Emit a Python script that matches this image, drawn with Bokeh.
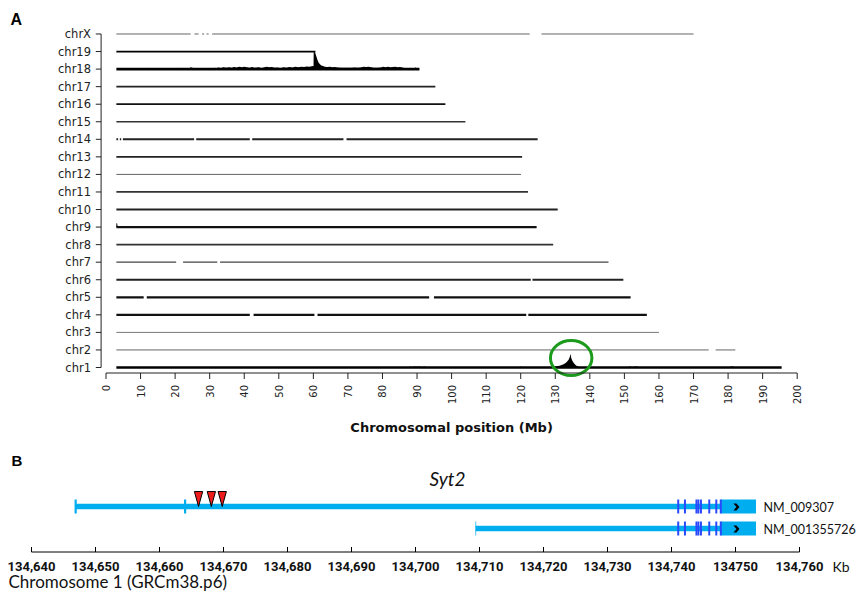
import math
from bokeh.plotting import figure
from bokeh.models import ColumnDataSource, Range1d
from bokeh.core.properties import value
from bokeh.embed import file_html
from bokeh.resources import INLINE

# ---------------- Panel A data ----------------
chrom_names = ["chr1", "chr2", "chr3", "chr4", "chr5", "chr6", "chr7", "chr8", "chr9", "chr10",
               "chr11", "chr12", "chr13", "chr14", "chr15", "chr16", "chr17", "chr18", "chr19", "chrX"]
chrom_start = [3.0, 3.0, 3.0, 3.0, 3.0, 3.0, 3.0, 3.0, 3.0, 3.0,
               3.0, 3.0, 3.0, 3.0, 3.0, 3.0, 3.0, 3.0, 3.0, 3.0]
chrom_end = [195.5, 182.1, 160.0, 156.5, 151.8, 149.7, 145.4, 129.4, 124.6, 130.7,
             122.1, 120.1, 120.4, 124.9, 104.0, 98.2, 95.3, 90.7, 60.6, 170.0]

gap_chrom = ["chrX", "chrX", "chrX", "chrX", "chrX", "chr14", "chr14", "chr14", "chr14", "chr14",
             "chr7", "chr7", "chr5", "chr5", "chr4", "chr4", "chr4", "chr2", "chr6"]
gap_start = [24.5, 26.8, 28.4, 29.7, 122.6, 3.5, 4.4, 25.5, 41.6, 68.7,
             20.3, 32.2, 10.9, 93.5, 41.6, 60.3, 121.6, 174.4, 122.9]
gap_end = [25.6, 27.8, 29.1, 30.7, 126.0, 4.0, 4.9, 26.1, 42.3, 69.6,
           22.3, 33.0, 11.8, 94.9, 42.7, 61.2, 122.2, 176.4, 123.4]

chr18_pos = [3.0, 5.2, 5.5, 5.8, 12.0, 12.3, 12.6, 20.6, 21.0, 21.4, 24.0, 24.5, 25.0, 25.4,
             30.8, 31.3, 31.8, 32.6, 33.2, 34.0, 34.8, 35.6, 36.4, 37.0, 37.8, 38.6, 39.3, 40.0,
             41.5, 42.3, 43.0, 44.2, 45.0, 46.5, 47.2, 48.0, 48.8, 49.5, 50.5, 51.5, 52.2, 53.0,
             54.0, 54.8, 55.6, 56.5, 57.3, 58.0, 58.8, 59.5, 60.05, 60.1, 60.5, 60.9, 61.2, 61.5,
             61.9, 62.3, 62.8, 63.3, 64.0, 64.8, 65.5, 66.2, 67.0, 68.0, 69.0, 70.0, 71.0, 72.0,
             73.0, 74.0, 74.6, 75.3, 76.0, 76.7, 77.5, 78.5, 79.5, 80.2, 80.9, 81.6, 82.3, 83.0,
             83.7, 84.4, 85.1, 86.0, 87.0, 88.5, 89.2, 89.6, 90.0, 90.7]
chr18_val = [0.0, 0.0, 0.07, 0.0, 0.0, 0.07, 0.0, 0.0, 0.08, 0.0, 0.0, 0.10, 0.08, 0.0,
             0.0, 0.07, 0.05, 0.09, 0.06, 0.10, 0.07, 0.11, 0.08, 0.12, 0.09, 0.13, 0.10, 0.14,
             0.08, 0.12, 0.07, 0.10, 0.06, 0.13, 0.10, 0.12, 0.07, 0.09, 0.06, 0.10, 0.08, 0.12,
             0.09, 0.13, 0.10, 0.14, 0.12, 0.15, 0.13, 0.16, 0.17, 1.0, 0.95, 0.70, 0.52, 0.38,
             0.27, 0.21, 0.17, 0.14, 0.12, 0.14, 0.11, 0.12, 0.09, 0.08, 0.07, 0.08, 0.07, 0.09,
             0.08, 0.11, 0.14, 0.12, 0.14, 0.10, 0.08, 0.07, 0.09, 0.13, 0.11, 0.14, 0.10, 0.12,
             0.14, 0.11, 0.12, 0.07, 0.05, 0.0, 0.0, 0.10, 0.0, 0.0]

chr1_pos = [3.0, 87.5, 88.0, 88.5, 89.2, 90.0, 90.8, 91.5, 92.3, 93.0, 119.5, 120.0, 120.5,
            129.0, 129.8, 130.5, 131.2, 131.9, 132.5, 133.0, 133.5, 133.9, 134.2, 134.4, 134.6,
            134.9, 135.2, 135.6, 136.0, 136.5, 137.2, 150.8, 151.5, 152.3, 153.0, 154.0, 154.8,
            180.3, 180.8, 181.4, 182.0, 195.5]
chr1_val = [0.0, 0.0, 0.05, 0.03, 0.06, 0.04, 0.06, 0.03, 0.05, 0.0, 0.0, 0.05, 0.0,
            0.0, 0.04, 0.07, 0.10, 0.14, 0.20, 0.26, 0.35, 0.45, 0.60, 0.78, 0.55,
            0.40, 0.30, 0.20, 0.12, 0.07, 0.0, 0.0, 0.05, 0.03, 0.06, 0.04, 0.0,
            0.0, 0.06, 0.05, 0.0, 0.0]

chr9_pos = [3.0, 3.2, 3.4]
chr9_val = [0.22, 0.22, 0.0]

highlight_center = [134.6, 0.54]   # (Mb, row units) green circle around chr1 peak

x_ticks = [0, 10, 20, 30, 40, 50, 60, 70, 80, 90, 100, 110, 120, 130, 140, 150, 160, 170, 180, 190, 200]
x_title = "Chromosomal position (Mb)"

# line styles of the chromosome tracks
track_width = [2.6, 1.0, 1.0, 2.3, 2.3, 2.1, 1.3, 1.7, 2.3, 2.1,
               1.7, 1.0, 1.9, 2.1, 1.6, 1.7, 1.7, 2.6, 1.7, 1.0]
track_color = ["#000000", "#666666", "#777777", "#111111", "#111111", "#222222", "#444444", "#333333", "#111111", "#222222",
               "#333333", "#666666", "#222222", "#222222", "#333333", "#111111", "#222222", "#000000", "#000000", "#666666"]

# ---------------- Panel B data ----------------
gene_label = "Syt2"
tx_names = ["NM_009307", "NM_001355726"]
tx_row = [1, 0]
tx_start = [134646.9, 134709.4]
tx_end = [134753.2, 134753.2]
mark_tx = [0, 0, 1]
mark_pos = [134646.9, 134664.0, 134709.4]
coding_exons = [134741.05, 134742.1, 134743.9, 134744.2, 134744.6, 134745.9, 134747.0, 134747.7]
last_exon_start = 134747.7
last_exon_end = 134753.2
variant_pos = [134666.1, 134668.1, 134669.8]
b_ticks = [134640, 134650, 134660, 134670, 134680, 134690, 134700, 134710, 134720, 134730, 134740, 134750, 134760]
b_tick_labels = ["134,640", "134,650", "134,660", "134,670", "134,680", "134,690", "134,700",
                 "134,710", "134,720", "134,730", "134,740", "134750", "134,760"]
b_unit = "Kb"
b_title = "Chromosome 1 (GRCm38.p6)"

# ---------------- page-pixel helpers for layout (positions only) ----------------
W, H = 858, 591
def mb(px):
    return (px - 105.5) / 3.456

def rowA(py):
    return (367.0 - py) / 17.553

def kb(px):
    return 134640 + (px - 31.0) / 6.4

def rowB(py):
    return (528.0 - py) / 22.0

FONT_A = "DejaVu Sans"

# one canvas, two coordinate systems: panel A (Mb x chromosome row) and panel B (kb x transcript row)
p = figure(width=W, height=H, output_backend="svg", toolbar_location=None,
           x_axis_location=None, y_axis_location=None,
           x_range=Range1d(mb(0), mb(W)), y_range=Range1d(rowA(H), rowA(0)),
           min_border_left=0, min_border_right=0, min_border_top=0, min_border_bottom=0)
p.extra_x_ranges = {"kb": Range1d(kb(0), kb(W))}
p.extra_y_ranges = {"rowB": Range1d(rowB(H), rowB(0))}
p.outline_line_color = None
p.grid.visible = False
p.background_fill_color = "white"
B = dict(x_range_name="kb", y_range_name="rowB")

# ================= Panel A =================
xs, ys, lw, lc = [], [], [], []
for i, name in enumerate(chrom_names):
    cuts = sorted([(s, e) for c, s, e in zip(gap_chrom, gap_start, gap_end) if c == name])
    a = chrom_start[i]
    pieces = []
    for s, e in cuts:
        pieces.append((a, s))
        a = e
    pieces.append((a, chrom_end[i]))
    for s, e in pieces:
        xs.append([s, e]); ys.append([i, i]); lw.append(track_width[i]); lc.append(track_color[i])
p.multi_line(xs="xs", ys="ys", line_width="lw", line_color="lc",
             source=ColumnDataSource(dict(xs=xs, ys=ys, lw=lw, lc=lc)))

for name, pos, val in [("chr18", chr18_pos, chr18_val), ("chr1", chr1_pos, chr1_val), ("chr9", chr9_pos, chr9_val)]:
    r = chrom_names.index(name)
    p.varea(x=pos, y1=[r] * len(pos), y2=[r + v for v in val], fill_color="black")

p.ellipse(x=[highlight_center[0]], y=[highlight_center[1]], width=12.0, height=2.0,
          fill_color=None, line_color="#1c9a1c", line_width=3)

# left axis (R style)
rows = list(range(len(chrom_names)))
p.segment(x0=[mb(100.6)], y0=[rows[0]], x1=[mb(100.6)], y1=[rows[-1]], line_color="#222222", line_width=1)
p.segment(x0=[mb(95.3)] * len(rows), y0=rows, x1=[mb(100.6)] * len(rows), y1=rows,
          line_color="#222222", line_width=1)
p.text(x=[mb(90.5)] * len(rows), y=rows, text=chrom_names, text_align="right", text_baseline="middle",
       text_font=value(FONT_A), text_font_size="11.5px", text_color="#222222")

# bottom axis (R style)
AXA = rowA(372.5)
TKA = 6.0 / 17.553
p.segment(x0=[x_ticks[0]], y0=[AXA], x1=[x_ticks[-1]], y1=[AXA], line_color="#222222", line_width=1)
p.segment(x0=x_ticks, y0=[AXA] * len(x_ticks), x1=x_ticks, y1=[AXA - TKA] * len(x_ticks),
          line_color="#222222", line_width=1)
p.text(x=x_ticks, y=[rowA(384.5)] * len(x_ticks), text=[str(t) for t in x_ticks], angle=math.pi / 2,
       text_align="right", text_baseline="middle", text_font=value(FONT_A), text_font_size="10px",
       text_color="#222222")
p.text(x=[(x_ticks[0] + x_ticks[-1]) / 2], y=[rowA(426.5)], text=[x_title], text_align="center",
       text_baseline="middle", text_font=value(FONT_A), text_font_style="bold",
       text_font_size="13px", text_color="#111111")

p.text(x=[mb(10)], y=[rowA(19.2)], text=["A"], text_align="left", text_baseline="middle",
       text_font=value("Liberation Sans"), text_font_style="bold", text_font_size="16px", text_color="black")

# ================= Panel B =================
BLUE = "#00AEEF"
EXON = "#2a48ff"
HALF = 7.0 / 22.0

p.segment(x0=tx_start, y0=tx_row, x1=tx_end, y1=tx_row, line_color=BLUE, line_width=5.5, **B)
mk_y = [tx_row[t] for t in mark_tx]
p.segment(x0=mark_pos, y0=[y - HALF for y in mk_y], x1=mark_pos, y1=[y + HALF for y in mk_y],
          line_color=BLUE, line_width=[2.2, 2.2, 1.2], line_alpha=[1.0, 1.0, 0.6], **B)
p.quad(left=[last_exon_start] * 2, right=[last_exon_end] * 2,
       bottom=[r - HALF for r in tx_row], top=[r + HALF for r in tx_row],
       fill_color=BLUE, line_color=None, **B)
ex_x, ex_y = [], []
for r in tx_row:
    for e in coding_exons:
        ex_x.append(e); ex_y.append(r)
p.segment(x0=ex_x, y0=[y - HALF for y in ex_y], x1=ex_x, y1=[y + HALF for y in ex_y],
          line_color=EXON, line_width=2, **B)
cx = (last_exon_start + last_exon_end) / 2 - 0.3
chev_dx = [-3, 0, 3, 0, -3, 0]
chev_dy = [3.5, 3.5, 0, -3.5, -3.5, 0]
p.patches(xs=[[cx + d / 6.4 for d in chev_dx] for r in tx_row],
          ys=[[r - 0.02 + d / 22.0 for d in chev_dy] for r in tx_row],
          fill_color="black", line_color=None, **B)
TW = 0.65
TH = 0.68
p.patches(xs=[[v - TW, v + TW, v] for v in variant_pos],
          ys=[[tx_row[0] + TH, tx_row[0] + TH, tx_row[0]] for v in variant_pos],
          fill_color="#ee1c1c", line_color="black", line_width=1, **B)

p.text(x=[kb(11)], y=[rowB(459.5)], text=["B"], text_align="left", text_baseline="middle",
       text_font=value("Liberation Sans"), text_font_style="bold", text_font_size="15px", text_color="black", **B)
p.text(x=[kb(447)], y=[rowB(478)], text=[gene_label], text_align="center", text_baseline="middle",
       text_font=value("Lato"), text_font_style="italic", text_font_size="19px", text_color="#111111", **B)
p.text(x=[kb(763)] * len(tx_names), y=[rowB(506.5), rowB(529.0)], text=tx_names, text_align="left",
       text_baseline="middle", text_font=value("Lato"), text_font_size="12.5px", text_color="#111111", **B)

# coordinate axis of panel B
AXB = rowB(551.5)
TKB = 5.0 / 22.0
p.segment(x0=[b_ticks[0]], y0=[AXB], x1=[b_ticks[-1]], y1=[AXB], line_color="black", line_width=1, **B)
p.segment(x0=b_ticks, y0=[AXB] * len(b_ticks), x1=b_ticks, y1=[AXB + TKB] * len(b_ticks),
          line_color="black", line_width=1, **B)
p.text(x=b_ticks, y=[rowB(565.5)] * len(b_ticks), text=b_tick_labels, text_align="center",
       text_baseline="middle", text_font=value("Roboto"), text_font_style="bold",
       text_font_size="13px", text_color="#111111", **B)
p.text(x=[kb(832)], y=[rowB(565.5)], text=[b_unit], text_align="left", text_baseline="middle",
       text_font=value("Lato"), text_font_size="14px", text_color="#111111", **B)
p.text(x=[kb(8)], y=[rowB(580.5)], text=[b_title], text_align="left", text_baseline="middle",
       text_font=value("Lato"), text_font_size="17px", text_color="#111111", **B)

open("out.html", "w").write(file_html(p, INLINE))
